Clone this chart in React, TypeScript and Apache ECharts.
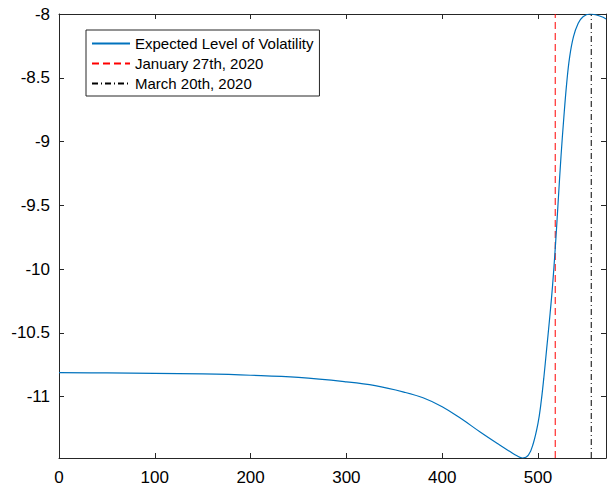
import React, { useEffect, useRef } from "react";
import * as echarts from "echarts";

// Expected level of volatility (x = day index, y = level)
const curveX = [0, 50, 100, 150, 200, 250, 300, 330, 360, 380, 400, 420, 440, 460, 470, 478, 484, 490, 495, 500, 503, 506, 509, 512, 515, 518, 521, 524, 527, 530, 533, 537, 542, 547, 554, 561, 568, 571];
const curveY = [-10.813, -10.815, -10.818, -10.823, -10.833, -10.85, -10.885, -10.915, -10.965, -11.01, -11.08, -11.175, -11.28, -11.38, -11.428, -11.465, -11.482, -11.46, -11.37, -11.21, -11.06, -10.86, -10.63, -10.4, -10.15, -9.84, -9.48, -9.12, -8.81, -8.54, -8.34, -8.18, -8.073, -8.021, -8.0, -8.008, -8.026, -8.04];

const jan27X = 518;
const mar20X = 555.6;

const xMin = 0;
const xMax = 571;
const yMin = -11.482;
const yMax = -8;

const xTicks = [0, 100, 200, 300, 400, 500];
const yTicks = [-11, -10.5, -10, -9.5, -9, -8.5, -8];

const seriesNames = ["Expected Level of Volatility", "January 27th, 2020", "March 20th, 2020"];

const FONT = '"Liberation Sans", Arial, Helvetica, sans-serif';
const AXIS_COLOR = "#262626";

export default function App() {
  const ref = useRef<HTMLDivElement>(null);
  useEffect(() => {
    if (!ref.current) return;
    const chart = echarts.init(ref.current, undefined, { renderer: "svg" });
    const curveData = curveX.map((x, i) => [x, curveY[i]]);
    const axisCommon = {
      type: "value" as const,
      axisLine: { show: true, onZero: false, lineStyle: { color: AXIS_COLOR, width: 1 } },
      splitLine: { show: false },
    };
    chart.setOption({
      animation: false,
      textStyle: { fontFamily: FONT },
      grid: { left: 59, top: 14, right: 1, bottom: 30, containLabel: false },
      xAxis: [
        {
          ...axisCommon,
          position: "bottom",
          min: xMin,
          max: xMax,
          axisTick: { show: true, inside: true, length: 5, customValues: xTicks, lineStyle: { color: AXIS_COLOR } },
          axisLabel: { show: true, customValues: xTicks, fontSize: 17, color: "#000", margin: 11, fontFamily: FONT },
        },
        {
          ...axisCommon,
          position: "top",
          min: xMin,
          max: xMax,
          axisTick: { show: true, inside: true, length: 5, customValues: xTicks, lineStyle: { color: AXIS_COLOR } },
          axisLabel: { show: false },
        },
      ],
      yAxis: [
        {
          ...axisCommon,
          position: "left",
          min: yMin,
          max: yMax,
          axisTick: { show: true, inside: true, length: 5, customValues: yTicks, lineStyle: { color: AXIS_COLOR } },
          axisLabel: { show: true, customValues: yTicks, fontSize: 17, color: "#000", margin: 9, fontFamily: FONT },
        },
        {
          ...axisCommon,
          position: "right",
          min: yMin,
          max: yMax,
          axisTick: { show: true, inside: true, length: 5, customValues: yTicks, lineStyle: { color: AXIS_COLOR } },
          axisLabel: { show: false },
        },
      ],
      legend: {
        show: true,
        orient: "vertical",
        left: 86,
        top: 30,
        data: seriesNames,
        backgroundColor: "#fff",
        borderColor: AXIS_COLOR,
        borderWidth: 1,
        borderRadius: 0,
        padding: [6, 6, 5, 5],
        itemGap: 5,
        itemWidth: 38,
        itemHeight: 14,
        itemStyle: { opacity: 0 },
        textStyle: { fontSize: 15, color: "#000", fontFamily: FONT },
      },
      series: [
        {
          name: seriesNames[0],
          type: "line",
          data: curveData,
          showSymbol: false,
          symbol: "none",
          smooth: 0.4,
          lineStyle: { color: "#0072BD", width: 1.2 },
          itemStyle: { color: "#0072BD" },
          z: 3,
        },
        {
          name: seriesNames[1],
          type: "line",
          data: [[jan27X, yMin], [jan27X, yMax]],
          showSymbol: false,
          symbol: "none",
          lineStyle: { color: "#FF0000", width: 1, type: [7, 4] },
          itemStyle: { color: "#FF0000" },
          z: 2,
        },
        {
          name: seriesNames[2],
          type: "line",
          data: [[mar20X, yMin], [mar20X, yMax]],
          showSymbol: false,
          symbol: "none",
          lineStyle: { color: "#000000", width: 1, type: [6, 3, 1, 3] },
          itemStyle: { color: "#000000" },
          z: 2,
        },
      ],
    });
    return () => chart.dispose();
  }, []);
  return (
    <div
      ref={ref}
      style={{ position: "fixed", left: 0, top: 0, width: 607, height: 488, background: "#fff" }}
    />
  );
}
